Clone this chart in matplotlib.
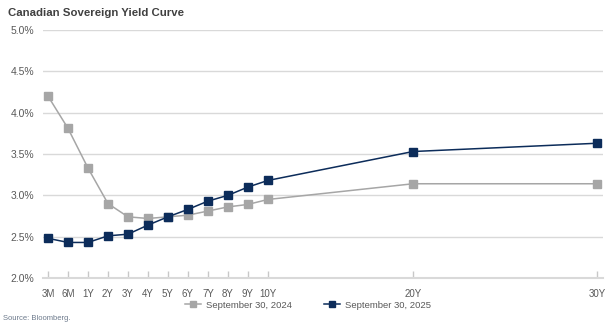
import matplotlib
matplotlib.use("Agg")
import matplotlib.pyplot as plt
from matplotlib.lines import Line2D

tenors = ["3M", "6M", "1Y", "2Y", "3Y", "4Y", "5Y", "6Y", "7Y", "8Y", "9Y", "10Y", "20Y", "30Y"]
yield_2024 = [4.20, 3.81, 3.33, 2.90, 2.74, 2.72, 2.74, 2.76, 2.81, 2.86, 2.89, 2.95, 3.14, 3.14]
yield_2025 = [2.48, 2.43, 2.43, 2.51, 2.53, 2.64, 2.74, 2.83, 2.93, 3.00, 3.10, 3.18, 3.53, 3.63]
y_ticks = [2.0, 2.5, 3.0, 3.5, 4.0, 4.5, 5.0]
series_labels = ["September 30, 2024", "September 30, 2025"]

# horizontal positions of tenors on the axis (categorical near end, stretched for 20Y/30Y)
x_pos = list(range(12)) + [18.26, 27.46]

GRAY = "#a6a6a6"
NAVY = "#0c2c5a"
TXT = "#595959"
FONT = ["Liberation Sans Narrow", "Liberation Sans", "DejaVu Sans"]
plt.rcParams["font.family"] = FONT

fig = plt.figure(figsize=(6.16, 3.28), dpi=100)
ax = fig.add_axes([43/616, 50/328, 560/616, 248/328])

ax.plot(x_pos, yield_2024, color=GRAY, lw=1.1, marker="s", ms=5.3, mec=GRAY, mfc=GRAY, zorder=3)
ax.plot(x_pos, yield_2025, color=NAVY, lw=1.1, marker="s", ms=5.3, mec=NAVY, mfc=NAVY, zorder=4)

ax.set_xlim(-0.25, 27.76)
ax.set_ylim(2.0, 5.0)
ax.set_yticks(y_ticks)
ax.set_yticklabels([f"{v:.1f}%" for v in y_ticks])
ax.set_xticks(x_pos)
ax.set_xticklabels(tenors)
ax.grid(axis="y", color="#d9d9d9", lw=1.0)
ax.set_axisbelow(True)
for s in ["top", "right", "left"]:
    ax.spines[s].set_visible(False)
ax.spines["bottom"].set_color("#d9d9d9")
ax.spines["bottom"].set_linewidth(1.5)
ax.tick_params(axis="x", direction="in", length=5, color="#c8c8c8", width=1, labelsize=7, labelcolor=TXT, pad=8)
ax.tick_params(axis="y", length=0, labelsize=7.5, labelcolor=TXT, pad=6)

fig.text(8/616, 1 - 13/328, "Canadian Sovereign Yield Curve", fontsize=8.2, fontweight="bold",
         color="#404040", va="center", ha="left")

handles = [Line2D([], [], color=GRAY, lw=1.1, marker="s", ms=4.5, mec=GRAY, mfc=GRAY),
           Line2D([], [], color=NAVY, lw=1.1, marker="s", ms=4.5, mec=NAVY, mfc=NAVY)]
fig.legend(handles, series_labels, loc="center", bbox_to_anchor=(308/616, 1 - 305/328), ncol=2,
           frameon=False, fontsize=6.8, labelcolor=TXT, handlelength=1.7, columnspacing=3.3,
           handletextpad=0.6, borderpad=0, borderaxespad=0)

fig.text(3/616, 1 - 319/328, "Source: Bloomberg.", fontsize=5.5, color="#6d7a8c", va="center", ha="left")

fig.savefig("out.png", dpi=100)
